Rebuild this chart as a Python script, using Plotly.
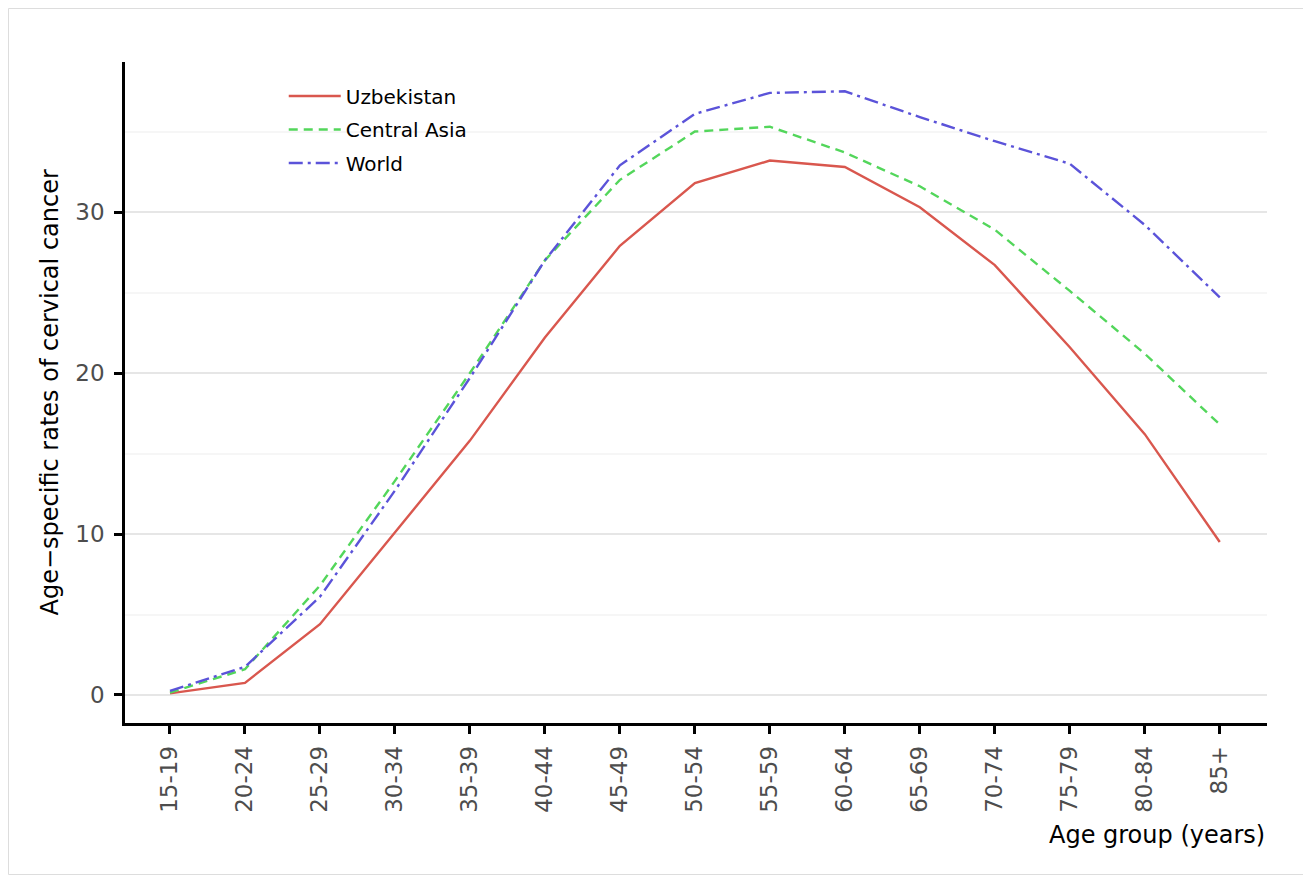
import plotly.graph_objects as go

age_groups = ["15-19", "20-24", "25-29", "30-34", "35-39", "40-44", "45-49",
              "50-54", "55-59", "60-64", "65-69", "70-74", "75-79", "80-84", "85+"]
uzbekistan = [0.1, 0.75, 4.4, 10.1, 15.8, 22.2, 27.9, 31.8, 33.2, 32.8, 30.3, 26.7, 21.6, 16.2, 9.5]
central_asia = [0.15, 1.6, 6.8, 13.3, 20.0, 27.0, 32.0, 35.0, 35.3, 33.7, 31.6, 28.9, 25.1, 21.2, 16.8]
world = [0.25, 1.75, 6.1, 12.7, 19.7, 27.0, 32.9, 36.1, 37.4, 37.5, 35.9, 34.4, 33.0, 29.2, 24.7]

series = [
    ("Uzbekistan", uzbekistan, "#D9574E", "solid"),
    ("Central Asia", central_asia, "#53D65B", "9px,6px"),
    ("World", world, "#5B53D9", "14px,5px,3px,5px"),
]

fig = go.Figure()
for i, (name, vals, color, dash) in enumerate(series):
    fig.add_trace(go.Scatter(
        x=list(range(len(age_groups))), y=vals, mode="lines", name=name,
        legendgroup=f"g{i}",
        line=dict(color=color, width=2.4, dash=dash),
    ))

# plot area in figure px: x 117..1259, y 54..715
fig.update_layout(
    width=1298, height=868,
    margin=dict(l=117, r=39, t=54, b=153),
    paper_bgcolor="white", plot_bgcolor="white",
    font=dict(family="DejaVu Sans", size=20, color="#4d4d4d"),
    showlegend=True,
    legend=dict(x=0.139, y=0.978, xanchor="left", yanchor="top",
                bgcolor="rgba(0,0,0,0)", font=dict(size=20, color="black"),
                tracegroupgap=4.5, itemwidth=52),
    shapes=[dict(type="rect", xref="paper", yref="paper",
                 x0=(0.5 - 117) / 1142, x1=(1297.5 - 117) / 1142,
                 y0=(715 - 866.5) / 661, y1=(715 - 0.5) / 661,
                 line=dict(color="#dddddd", width=1), layer="below")],
    annotations=[
        dict(text="Age group (years)", xref="paper", yref="paper",
             x=1.0, y=-0.169, xanchor="right", yanchor="middle",
             showarrow=False, font=dict(size=24, color="black")),
        dict(text="Age\u2212specific rates of cervical cancer", xref="paper", yref="paper",
             x=(49 - 125) / 1142, y=0.5, xanchor="center", yanchor="middle",
             textangle=-90, showarrow=False, font=dict(size=24, color="black")),
    ],
)

fig.update_xaxes(
    range=[-0.6, 14.63], tickmode="array",
    tickvals=list(range(len(age_groups))), ticktext=age_groups,
    tickangle=-90, showgrid=False, zeroline=False,
    showline=True, linecolor="black", linewidth=2.5,
    ticks="outside", tickcolor="black", tickwidth=2.5, ticklen=8,
    ticklabelstandoff=3,
    tickfont=dict(size=23, color="#4d4d4d"),
)
fig.update_yaxes(
    range=[-1.74, 39.32], tickvals=[0, 10, 20, 30],
    showgrid=True, gridcolor="#e6e6e6", gridwidth=2, zeroline=False,
    minor=dict(tickvals=[5, 15, 25, 35], showgrid=True, gridcolor="#f6f6f6", gridwidth=1.5),
    showline=True, linecolor="black", linewidth=2.5,
    ticks="outside", tickcolor="black", tickwidth=2.5, ticklen=8,
    ticklabelstandoff=5,
    tickfont=dict(size=23, color="#4d4d4d"),
)

fig.write_html("out.html")
